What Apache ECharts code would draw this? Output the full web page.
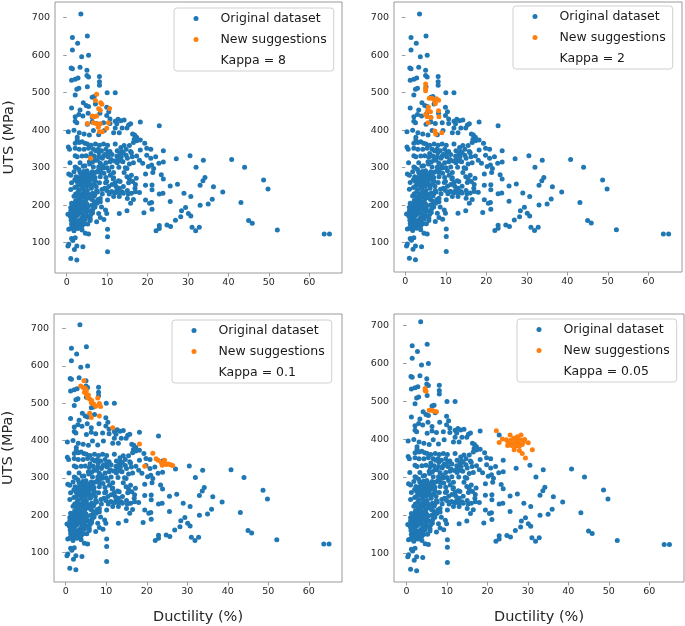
<!DOCTYPE html>
<html>
<head>
<meta charset="utf-8">
<script src="https://cdn.jsdelivr.net/npm/echarts@6/dist/echarts.min.js"></script>
<style>html,body{margin:0;padding:0;background:#fff;}#c{width:685px;height:626px;}</style>
</head>
<body>
<div id="c"></div>
<script>
// ---- DATA ----
const xTicks = [0, 10, 20, 30, 40, 50, 60];
const yTicks = [100, 200, 300, 400, 500, 600, 700];
const kappaLabels = ['Kappa = 8', 'Kappa = 2', 'Kappa = 0.1', 'Kappa = 0.05'];

// Original dataset [ductility %, UTS MPa]
const originalData = [
[3.5,710],[1.4,647],[5.1,651],[2.7,632],[1.4,614],[3.7,596],[5.4,600],[1.1,566],[1.4,564],[3.3,568],[5.0,560],
[1.2,533],[2.1,536],[2.8,539],[5.0,546],[5.4,542],[8.1,543],[8.1,529],[2.5,509],[3.0,512],[5.1,516],[2.1,494],
[8.1,520],[10.0,500],[12.0,500],[6.3,488],[6.8,490],[1.2,459],[4.1,473],[4.8,466],[5.4,463],[7.1,470],[9.9,461],
[10.4,449],[3.3,454],[3.0,442],[2.1,436],[4.0,438],[5.3,445],[6.3,434],[8.2,445],[9.9,439],[10.7,430],[2.1,424],
[2.5,420],[5.1,416],[6.3,422],[7.4,418],[9.1,420],[10.7,418],[12.0,424],[12.7,429],[13.4,425],[14.2,427],[12.4,417],
[12.0,406],[13.7,406],[14.9,406],[15.3,414],[15.8,417],[18.2,422],[22.9,412],[0.4,396],[1.8,400],[3.1,393],[4.3,390],
[5.6,387],[6.6,399],[7.9,388],[9.3,399],[11.6,393],[13.0,393],[16.3,390],[16.8,387],[17.3,381],[16.7,376],[2.6,381],
[2.6,374],[2.1,365],[3.1,367],[3.8,369],[4.5,365],[5.1,363],[6.0,360],[7.1,363],[8.1,360],[9.1,363],[10.1,360],
[12.0,363],[13.4,354],[14.2,359],[15.5,359],[16.5,367],[17.3,372],[18.2,374],[19.3,365],[0.4,355],[0.7,349],[2.1,352],
[3.1,349],[4.3,349],[5.4,352],[6.6,349],[7.8,349],[8.6,345],[9.7,349],[10.7,343],[12.5,345],[13.6,343],[14.7,349],
[15.8,343],[18.2,347],[19.8,352],[20.8,349],[23.9,345],[2.1,332],[2.6,329],[3.8,331],[4.8,332],[5.8,328],[6.8,331],
[7.9,329],[9.1,331],[10.2,329],[11.2,335],[12.4,331],[13.5,329],[14.7,333],[16.2,329],[17.3,331],[18.0,320],[19.8,333],
[20.8,325],[22.0,329],[27.1,324],[30.5,332],[40.8,322],[22.8,312],[23.9,315],[33.8,320],[0.8,313],[3.3,313],[5.6,316],
[7.0,320],[8.3,312],[9.7,313],[10.7,316],[12.5,313],[13.9,316],[16.5,313],[18.8,312],[20.2,303],[21.0,307],[21.5,298],
[2.1,302],[4.1,304],[6.6,302],[7.9,302],[9.1,299],[11.2,302],[12.9,301],[14.9,298],[32.0,301],[44.0,301],[1.8,289],
[3.3,287],[5.0,292],[6.3,289],[8.3,287],[10.4,292],[11.6,287],[14.2,287],[19.5,283],[21.3,287],[23.4,281],[0.5,283],
[1.0,280],[2.3,276],[3.1,274],[4.0,278],[4.8,274],[5.6,276],[7.0,274],[8.3,276],[9.7,274],[11.6,273],[14.9,276],
[17.2,272],[34.2,274],[33.7,265],[1.2,260],[2.5,263],[3.8,260],[4.8,263],[5.6,260],[7.1,263],[8.1,260],[9.9,263],
[12.0,260],[13.2,263],[15.3,260],[16.3,263],[19.5,253],[21.1,254],[23.9,270],[27.4,256],[25.6,251],[33.0,253],[36.3,249],
[48.7,267],[49.8,243],[38.6,235],[1.0,242],[2.0,247],[3.0,240],[4.0,244],[5.1,239],[6.1,245],[7.4,239],[8.7,242],
[9.9,239],[11.2,236],[12.4,239],[13.7,236],[15.0,239],[16.9,245],[18.0,234],[21.1,241],[22.9,230],[23.8,232],[29.0,232],
[30.7,223],[1.8,224],[3.1,221],[4.3,227],[5.4,221],[6.8,224],[8.3,218],[10.1,214],[11.6,223],[13.0,223],[15.0,218],
[16.5,215],[19.5,214],[20.5,205],[21.0,207],[25.6,210],[43.1,207],[36.0,216],[35.0,203],[33.0,200],[15.8,205],[8.3,209],
[2.1,205],[5.0,203],[6.6,200],[29.4,194],[28.4,185],[21.1,189],[19.1,180],[14.9,185],[13.0,178],[9.6,187],[7.9,178],
[6.4,180],[5.1,171],[4.0,168],[0.3,176],[1.0,194],[30.1,178],[30.7,171],[28.2,169],[26.9,160],[22.1,132],[22.9,146],
[22.9,138],[24.8,147],[25.7,143],[31.0,141],[31.9,132],[32.8,141],[45.0,159],[45.9,152],[52.1,134],[63.7,123],[65.0,123],
[0.5,136],[1.0,138],[1.8,141],[2.6,144],[4.6,125],[5.4,123],[3.8,134],[5.8,159],[7.4,156],[8.3,167],[9.2,162],[9.9,178],
[10.1,136],[10.1,116],[10.1,76],[0.5,96],[0.3,91],[1.2,111],[1.5,106],[2.1,113],[1.9,82],[2.5,91],[4.0,89],[1.0,58],[2.5,54],
[1.2,150],[1.5,155],[1.8,160],[2.0,165],[2.2,170],[2.5,172],[2.8,175],[3.0,178],[3.2,180],[3.5,182],[1.6,168],[1.9,172],
[2.3,176],[2.6,180],[2.9,184],[3.3,186],[3.6,190],[1.4,178],[1.7,182],[2.1,185],[2.4,188],[2.7,192],[3.0,195],[3.4,198],
[1.0,185],[1.3,190],[1.6,195],[2.0,198],[2.3,202],[2.7,205],[3.1,208],[3.8,200],[4.2,195],[4.5,188],[4.0,176],[4.3,170],
[3.7,165],[3.3,160],[2.9,158],[2.4,155],[2.0,150],[1.7,145],[1.3,142],[2.6,146],[3.0,150],[3.5,155],[3.9,158],[4.6,162],
[4.8,180],[5.0,190],[1.1,160],[0.9,170],[1.5,200],[1.2,205],[2.2,212],[2.9,215],[3.6,212],[4.1,208],[4.7,205],[5.3,198],
[5.6,185],[6.0,175],[6.5,190],[7.0,195],[7.5,205],[3.8,145],[4.3,150],[2.2,140],[2.8,138],[3.4,140],[1.8,132],[5.2,150],
[5.8,165],[6.2,200],[6.8,210],
[2.2,230],[2.8,235],[3.4,228],[4.0,232],[4.6,236],[5.2,230],[5.8,228],[6.4,232],[7.0,230],[7.6,235],[2.5,250],[3.1,255],
[3.7,250],[4.3,255],[4.9,250],[5.5,255],[6.1,252],[6.7,256],[7.3,250],[2.0,268],[2.6,270],[3.2,266],[3.8,270],[4.4,266],
[5.0,270],[5.6,266],[6.2,270],[6.8,268],[3.5,285],[4.2,290],[4.8,284],[5.4,280],[6.0,285],[6.6,280],[7.2,288],[7.8,292],
[8.4,296],[9.0,305],[3.0,295],[2.4,300],[4.5,305],[5.7,310],[6.4,315],[7.6,320],[8.8,325],[9.4,335],[10.2,340],[11.0,322],
[11.8,318],[12.6,322],[13.2,338],[14.0,340],[15.0,325],[16.0,340],[8.0,340],[7.2,345],[6.0,338],[9.6,260],[10.4,250],
[11.2,255],[12.2,250],[13.0,245],[14.0,250],[15.5,270],[16.0,280],[17.0,255],[14.5,300],[15.5,310],[13.5,318],[10.8,280],
[11.5,270],[12.8,265],[9.2,285],[10.0,300],[8.8,230],[9.4,245],[7.8,215],[8.6,195],[6.2,215],[5.6,220],[4.8,215],[4.2,222],
[3.6,225],[2.8,220],[12.0,233],[13.0,233],[14.0,232],[11.0,236],[10.5,230],[16.0,232],[17.0,236],[15.2,230]
];

// New suggestions per panel
const suggKappa8 = [
[7.4,496],[7.1,479],[8.4,473],[8.7,469],[7.9,457],[8.3,453],[10.6,458],[6.3,438],[6.8,436],[7.4,438],[5.1,418],
[6.6,420],[7.4,417],[7.9,413],[8.3,417],[7.8,408],[8.1,396],[8.8,396],[9.9,405],[10.3,420],[5.9,325]
];
const suggKappa2 = [
[5.0,523],[5.0,512],[5.0,505],[5.9,485],[6.5,485],[7.2,480],[7.7,484],[8.2,480],[7.4,471],[5.7,462],[5.5,451],
[6.2,449],[8.2,452],[5.0,441],[5.4,436],[8.3,436],[6.3,434],[5.6,420],[7.3,398],[7.5,390],[9.0,393]
];
const suggKappa01 = [
[4.5,560],[3.7,546],[4.3,542],[4.8,540],[5.1,535],[4.6,529],[5.1,524],[5.6,522],[5.4,515],[5.9,511],[6.4,507],
[6.3,501],[6.9,498],[7.4,492],[7.9,514],[8.3,499],[8.6,491],[5.9,473],[6.3,462],[8.3,466],[11.6,434],[18.2,391],
[21.5,366],[19.5,331],[22.3,351],[22.8,347],[23.6,341],[23.8,334],[24.4,347],[24.8,336],[25.3,337],[25.9,335],[26.4,333]
];
const suggKappa005 = [
[4.6,529],[4.6,534],[4.8,527],[5.6,477],[6.2,477],[6.7,475],[7.4,473],[22.2,423],[22.9,392],[23.7,401],[24.7,399],
[25.1,392],[25.6,412],[25.8,398],[26.3,389],[26.5,403],[26.8,383],[27.1,398],[27.4,407],[27.6,390],[27.9,383],[28.3,412],
[28.4,398],[28.6,387],[28.9,393],[28.6,363],[29.4,351],[30.1,391],[31.1,373],[25.0,384],[26.0,384],[27.0,390],[27.3,383],
[27.8,400],[26.6,373],[27.9,371],[29.2,400],[25.5,392]
];
const suggestions = [suggKappa8, suggKappa2, suggKappa01, suggKappa005];

// ---- LAYOUT ----
const panels = [
  {grid:{left:55,top:2,width:287,height:271}, x:[-2.9,68.1], y:[19.2,741.9], legend:{left:174,top:8}, ylab:true, xlab:false},
  {grid:{left:394,top:2,width:288,height:270}, x:[-2.8,68.3], y:[21.5,742], legend:{left:513,top:6}, ylab:false, xlab:false},
  {grid:{left:54,top:314,width:288,height:270}, x:[-2.9,68.2], y:[20.9,739], legend:{left:172,top:320}, ylab:true, xlab:true},
  {grid:{left:394,top:314,width:290,height:271}, x:[-3.1,68.6], y:[24.4,730.5], legend:{left:517,top:319}, ylab:false, xlab:true}
];

const BLUE = '#1f77b4', ORANGE = '#ff7f0e', FRAME = '#9a9a9a';
const tickFont = {fontFamily:'DejaVu Sans', fontSize:9.5, color:'#262626'};

const grids = [], xAxes = [], yAxes = [], series = [], legends = [];
panels.forEach((p, i) => {
  grids.push(Object.assign({show:true, borderColor:FRAME, borderWidth:1, backgroundColor:'#fff'}, p.grid));
  xAxes.push({
    type:'value', gridIndex:i, min:p.x[0], max:p.x[1],
    axisLine:{show:false}, splitLine:{show:false},
    axisTick:{show:true, customValues:xTicks, length:3.5, lineStyle:{color:FRAME}},
    axisLabel:Object.assign({customValues:xTicks, margin:5}, tickFont),
    name:p.xlab ? 'Ductility (%)' : '', nameLocation:'middle', nameGap:28,
    nameTextStyle:{fontFamily:'DejaVu Sans', fontSize:14.5, color:'#262626'}
  });
  yAxes.push({
    type:'value', gridIndex:i, min:p.y[0], max:p.y[1],
    axisLine:{show:false}, splitLine:{show:false},
    axisTick:{show:true, customValues:yTicks, length:3.5, lineStyle:{color:FRAME}},
    axisLabel:Object.assign({customValues:yTicks, margin:5}, tickFont),
    name:p.ylab ? 'UTS (MPa)' : '', nameLocation:'middle', nameGap:38,
    nameTextStyle:{fontFamily:'DejaVu Sans', fontSize:14.5, color:'#262626'}
  });
  series.push({type:'scatter', name:'Original dataset', xAxisIndex:i, yAxisIndex:i, data:originalData,
    symbolSize:5, itemStyle:{color:BLUE, opacity:1}, z:2, silent:true});
  series.push({type:'scatter', name:'New suggestions', xAxisIndex:i, yAxisIndex:i, data:suggestions[i],
    symbolSize:5, itemStyle:{color:ORANGE, opacity:1}, z:3, silent:true});
  series.push({type:'scatter', name:kappaLabels[i], xAxisIndex:i, yAxisIndex:i, data:[],
    itemStyle:{color:'rgba(0,0,0,0)'}});
  legends.push({
    left:p.legend.left, top:p.legend.top, orient:'vertical', selectedMode:false,
    data:['Original dataset','New suggestions', kappaLabels[i]],
    icon:'circle', itemWidth:5, itemHeight:5, itemGap:8,
    padding:[4,7,4,19.5], backgroundColor:'#fff', borderColor:'#d0d0d0', borderWidth:1, borderRadius:3,
    textStyle:{fontFamily:'DejaVu Sans', fontSize:12.5, color:'#1a1a1a', padding:[0,0,0,17]}
  });
});

const chart = echarts.init(document.getElementById('c'), null, {renderer:'canvas'});
chart.setOption({animation:false, backgroundColor:'#fff', grid:grids, xAxis:xAxes, yAxis:yAxes, series:series, legend:legends});
</script>
</body>
</html>
